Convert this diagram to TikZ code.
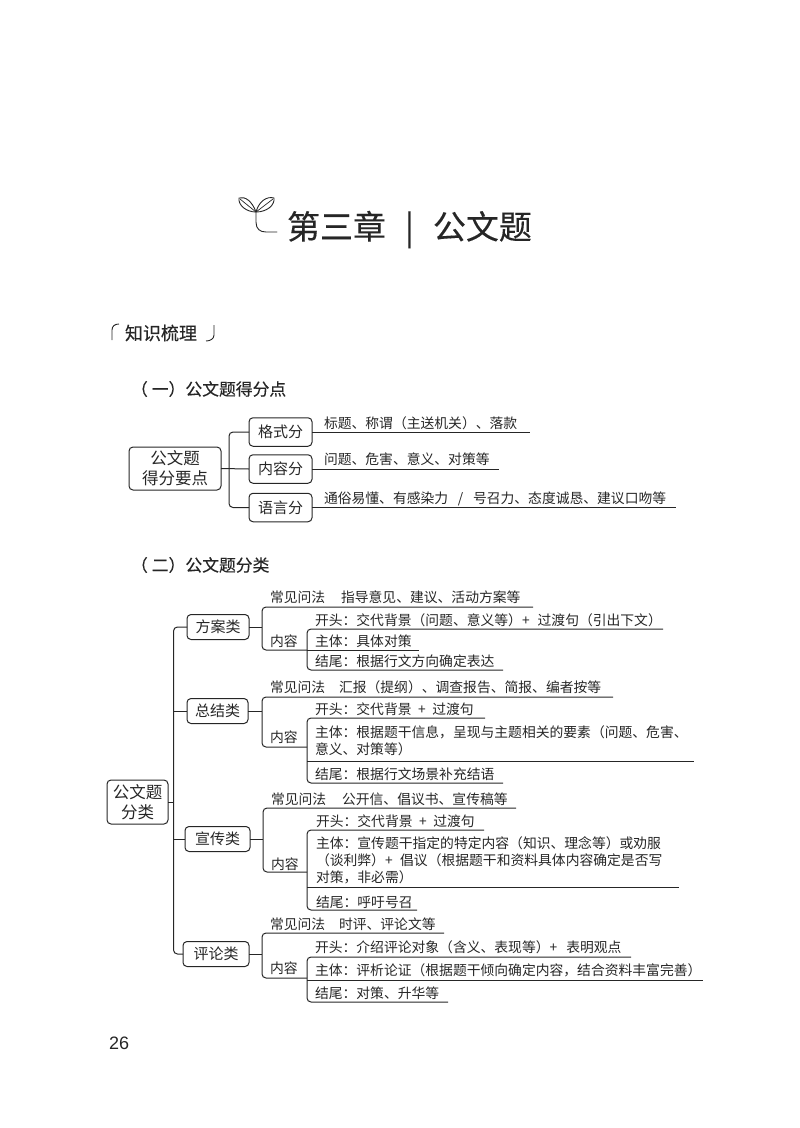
\documentclass[tikz,border=0pt]{standalone}
\usepackage{fontspec}
\setmainfont{Noto Sans CJK SC}
\newfontfamily\numfont{Liberation Sans}
\newfontfamily\headfont[FakeBold=0.35]{Noto Sans CJK SC}
\newfontfamily\titlefont[FakeBold=0.25]{Noto Sans CJK SC}
\definecolor{ink}{HTML}{262626}
\tikzset{
  basenode/.style={inner sep=0pt,outer sep=0pt,text=ink},
  txt/.style={basenode,anchor=west,text height=12pt,text depth=2pt,font=\fontsize{13.8}{16.6}\selectfont},
  mtxt/.style={basenode,anchor=north west,align=left,font=\fontsize{13.8}{16.8}\selectfont},
  boxa/.style={basenode,draw=ink,line width=1pt,rounded corners=4pt,align=center,font=\fontsize{16.5}{20}\selectfont},
  boxb/.style={basenode,draw=ink,line width=1pt,rounded corners=4pt,minimum height=25pt,font=\fontsize{15}{18}\selectfont},
  boxc/.style={basenode,draw=ink,line width=1pt,rounded corners=4pt,minimum width=63pt,minimum height=28.5pt,font=\fontsize{15}{18}\selectfont},
  conn/.style={draw=ink,line width=1pt},
  elbow/.style={conn,rounded corners=4pt},
  headtxt/.style={basenode,anchor=west,font=\headfont\fontsize{16.8}{20}\selectfont},
}
\begin{document}
\begin{tikzpicture}[x=1pt,y=-1pt]
\useasboundingbox (0,0) rectangle (800,1128);
% title
\draw[ink,line width=.9pt,line cap=round] (256,212) .. controls (252,201) and (245,196) .. (239,198) .. controls (238,205) and (246,212) .. (256,212)
  .. controls (259,201) and (267,196) .. (274,198) .. controls (275,205) and (267,212) .. (256,212);
\draw[ink,line width=.7pt] (240,199) -- (256,212) -- (273,199);
\draw[ink,line width=.9pt,line cap=round] (256,212) -- (256,222) .. controls (256,229) and (260,232) .. (266,232) -- (277,232);
\node[basenode,anchor=west,text height=26pt,text depth=6pt,font=\titlefont\fontsize{33}{36}\selectfont] (title) at (287,229) {第三章\hspace{19pt}|\hspace{19pt}公文题};
% knowledge heading
\draw[ink,line width=.9pt] (112,340) -- (112,330) .. controls (112,326) and (115,324) .. (119,324);
\node[basenode,anchor=west,font=\headfont\fontsize{18}{20}\selectfont] (zs) at (125,333) {知识梳理};
\draw[ink,line width=.9pt] (206,341) .. controls (210,341) and (214,339) .. (214,335) -- (214,325);
% section one
\node[headtxt] (h1) at (131,389) {（\hspace{4pt}一）公文题得分点};
\node[boxa,minimum width=92pt,minimum height=43pt] (m1) at (175,468.5) {公文题\\得分要点};
\node[boxc] (a1) at (280.5,432) {格式分};
\node[boxc] (a2) at (280.5,469) {内容分};
\node[boxc] (a3) at (280.5,507.5) {语言分};
\coordinate (aj) at (229,468.5);
\draw[conn] (m1.east) -- (a2.west);
\draw[elbow] (a1.west) -| (aj) |- (a3.west);
\coordinate (a1e) at (530,432);
\coordinate (a2e) at (499,469);
\coordinate (a3e) at (676,507.5);
\draw[conn] (a1.east) -- (a1e);
\draw[conn] (a2.east) -- (a2e);
\draw[conn] (a3.east) -- (a3e);
\node[txt] (a1t) at (324,423) {标题、称谓（主送机关）、落款};
\node[txt] (a2t) at (324,459) {问题、危害、意义、对策等};
\node[txt] (a3t) at (324,498) {通俗易懂、有感染力\hspace{9.7pt}/\hspace{9.7pt}号召力、态度诚恳、建议口吻等};
% section two
\node[headtxt] (h2) at (131,565) {（\hspace{4pt}二）公文题分类};
\node[boxa,minimum width=61pt,minimum height=44pt] (m2) at (137.5,802) {公文题\\分类};
\node[boxb,minimum width=62pt] (b1) at (218,627) {方案类};
\node[boxb,minimum width=61pt] (b2) at (217.5,711) {总结类};
\node[boxb,minimum width=65pt] (b3) at (217.5,839) {宣传类};
\node[boxb,minimum width=66pt] (b4) at (216,954) {评论类};
\coordinate (tj) at (173.5,802);
\draw[elbow] (b1.west) -| (tj) |- (b4.west);
\draw[conn] (m2.east) -- (tj);
\draw[conn] (b2.west -| tj) -- (b2.west);
\draw[conn] (b3.west -| tj) -- (b3.west);
% group 1
\coordinate (c1) at (262,627);
\coordinate (c1top) at (533,607);
\coordinate (c1s) at (307,650);
\coordinate (c1a) at (663,629);
\coordinate (c1m) at (307,650);
\coordinate (c1b) at (419,650);
\coordinate (c1c) at (503,670);
\draw[conn] (b1.east) -- (c1);
\draw[elbow] (c1top) -| (c1) |- (c1s);
\draw[elbow] (c1a) -| (c1s) |- (c1c);
\draw[conn] (c1m) -- (c1b);
\node[txt] (c1t0) at (270,597) {常见问法\hspace{1.15em}指导意见、建议、活动方案等};
\node[txt] (c1n) at (270,641) {内容};
\node[txt] (c1t1) at (315,620) {开头：交代背景（问题、意义等）+\hspace{8pt}过渡句（引出下文）};
\node[txt] (c1t2) at (315,641) {主体：具体对策};
\node[txt] (c1t3) at (315,661) {结尾：根据行文方向确定表达};
% group 2
\coordinate (c2) at (262,711);
\coordinate (c2top) at (613,697);
\coordinate (c2s) at (307,747);
\coordinate (c2a) at (485,718);
\coordinate (c2m) at (307,761);
\coordinate (c2b) at (694,761);
\coordinate (c2c) at (503,783);
\draw[conn] (b2.east) -- (c2);
\draw[elbow] (c2top) -| (c2) |- (c2s);
\draw[elbow] (c2a) -| (c2s) |- (c2c);
\draw[conn] (c2m) -- (c2b);
\node[txt] (c2t0) at (270,687) {常见问法\hspace{1em}汇报（提纲）、调查报告、简报、编者按等};
\node[txt] (c2n) at (270,737) {内容};
\node[txt] (c2t1) at (315,709) {开头：交代背景\hspace{6.5pt}+\hspace{6.5pt}过渡句};
\node[mtxt] (c2t2) at (315,726) {主体：根据题干信息，呈现与主题相关的要素（问题、危害、\\意义、对策等）};
\node[txt] (c2t3) at (315,774) {结尾：根据行文场景补充结语};
% group 3
\coordinate (c3) at (263,839);
\coordinate (c3top) at (516,808);
\coordinate (c3s) at (307,872);
\coordinate (c3a) at (484,830);
\coordinate (c3m) at (307,887);
\coordinate (c3b) at (679,887);
\coordinate (c3c) at (417,910);
\draw[conn] (b3.east) -- (c3);
\draw[elbow] (c3top) -| (c3) |- (c3s);
\draw[elbow] (c3a) -| (c3s) |- (c3c);
\draw[conn] (c3m) -- (c3b);
\node[txt] (c3t0) at (271,799) {常见问法\hspace{1.15em}公开信、倡议书、宣传稿等};
\node[txt] (c3n) at (271,864) {内容};
\node[txt] (c3t1) at (316,821) {开头：交代背景\hspace{6.5pt}+\hspace{6.5pt}过渡句};
\node[mtxt] (c3t2) at (316,837) {主体：宣传题干指定的特定内容（知识、理念等）或劝服\\（谈利弊）+\hspace{7.5pt}倡议（根据题干和资料具体内容确定是否写\\对策，非必需）};
\node[txt] (c3t3) at (316,902) {结尾：呼吁号召};
% group 4
\coordinate (c4) at (262,954);
\coordinate (c4top) at (444,933);
\coordinate (c4s) at (307,978);
\coordinate (c4a) at (631,957);
\coordinate (c4m) at (307,980);
\coordinate (c4b) at (703,980);
\coordinate (c4c) at (448,1002);
\draw[conn] (b4.east) -- (c4);
\draw[elbow] (c4top) -| (c4) |- (c4s);
\draw[elbow] (c4a) -| (c4s) |- (c4c);
\draw[conn] (c4m) -- (c4b);
\node[txt] (c4t0) at (270,924) {常见问法\hspace{1em}时评、评论文等};
\node[txt] (c4n) at (270,968) {内容};
\node[txt] (c4t1) at (315,947) {开头：介绍评论对象（含义、表现等）+\hspace{9pt}表明观点};
\node[txt] (c4t2) at (315,970) {主体：评析论证（根据题干倾向确定内容，结合资料丰富完善）};
\node[txt] (c4t3) at (315,993) {结尾：对策、升华等};
% page number
\node[basenode,anchor=west,font=\numfont\fontsize{18}{20}\selectfont] (pn) at (109,1043) {26};
\end{tikzpicture}
\end{document}
